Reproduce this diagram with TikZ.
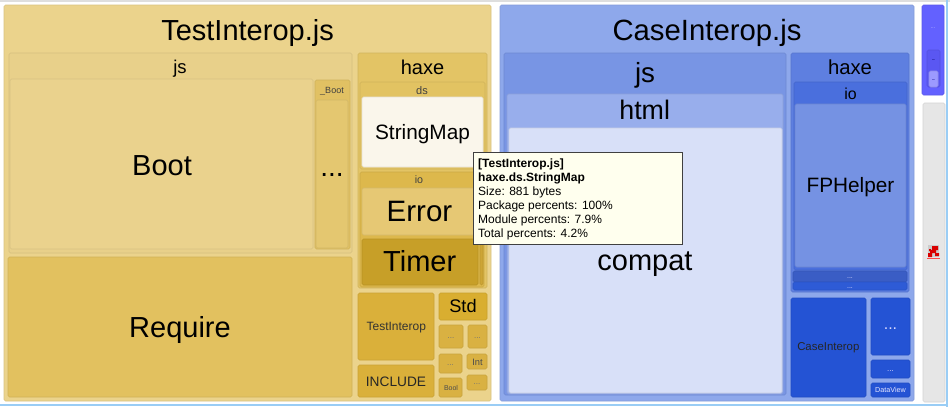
\documentclass[tikz,border=0pt]{standalone}
\usepackage{fontspec}
\setmainfont{Liberation Sans}
\definecolor{cTI}{HTML}{EBD38C}
\definecolor{cTJS}{HTML}{E8D08A}
\definecolor{cBoot}{HTML}{EAD28D}
\definecolor{cBG}{HTML}{E1C163}
\definecolor{cBGin}{HTML}{E4C770}
\definecolor{cReq}{HTML}{E2C15F}
\definecolor{cTHaxe}{HTML}{E3C465}
\definecolor{cDS}{HTML}{E2C362}
\definecolor{cSM}{HTML}{FAF6EB}
\definecolor{cTIO}{HTML}{DDB84C}
\definecolor{cErr}{HTML}{E6C874}
\definecolor{cTim}{HTML}{C79F28}
\definecolor{cStrip}{HTML}{CDA535}
\definecolor{cSmall}{HTML}{DAB03A}
\definecolor{cStd}{HTML}{D9AE30}
\definecolor{cTiny}{HTML}{D9B142}
\definecolor{cCI}{HTML}{8EA8EB}
\definecolor{cCJS}{HTML}{7895E4}
\definecolor{cHtml}{HTML}{98AEEC}
\definecolor{cCompat}{HTML}{D8E0F8}
\definecolor{cCHaxe}{HTML}{5E7FE0}
\definecolor{cCIO}{HTML}{4A6FDD}
\definecolor{cFPH}{HTML}{7592E3}
\definecolor{cBand}{HTML}{3A5DC5}
\definecolor{cBandb}{HTML}{2E5BD6}
\definecolor{cDeep}{HTML}{2453D4}
\definecolor{cPurp}{HTML}{6361FF}
\definecolor{cPurpD}{HTML}{5A57F2}
\definecolor{cPurpL}{HTML}{9C9AFF}
\definecolor{cGray}{HTML}{E6E6E6}
\definecolor{cTip}{HTML}{FFFFEE}
\definecolor{cEdgeBlue}{HTML}{9ACDF5}
\newcommand\fsz[1]{\fontsize{#1}{#1}\selectfont}
\tikzset{
  bx/.style={anchor=north west, inner sep=0pt, outer sep=0pt, rounded corners=1.5pt, line width=0.6pt},
  lb/.style={inner sep=0pt, outer sep=0pt, anchor=base, text=black},
  dim/.style={lb, text=black!55},
  wdim/.style={lb, text=white!85!blue},
  tip/.style={inner sep=0pt, anchor=base west, text=black, font=\fsz{12}},
}
\newcommand\bx[6]{\node[bx, fill=#6, draw=#6!92!black, minimum width={#4pt-#2pt}, minimum height={#5pt-#3pt}] (#1) at (#2,#3) {};}
\begin{document}
\begin{tikzpicture}[x=1pt,y=-1pt]
\useasboundingbox (0,0) rectangle (950,407);
\fill[white] (0,0) rectangle (950,407);
\fill[black!13] (0,0) rectangle (950,2);
\fill[cEdgeBlue] (946,0) rectangle (948,407);
\fill[cEdgeBlue] (0,404) rectangle (948,406);
% ---------- TestInterop.js ----------
\bx{ti}{4}{5}{491}{401}{cTI}
\bx{tjs}{9}{53}{352}{253}{cTJS}
\bx{boot}{10}{79}{313}{249}{cBoot}
\bx{bootg}{315}{80}{350}{249}{cBG}
\bx{bootin}{316}{100}{348}{248}{cBGin}
\bx{req}{8}{257}{352}{397}{cReq}
\bx{thaxe}{358}{53}{487}{288}{cTHaxe}
\bx{ds}{360}{82}{485}{169}{cDS}
\bx{smap}{362}{97}{483}{167}{cSM}
\bx{tio}{360}{172}{484}{287}{cTIO}
\bx{err}{362}{188}{478}{235}{cErr}
\bx{tim}{362}{239}{478}{285}{cTim}
\bx{strip}{480}{239}{483}{285}{cStrip}
\bx{tint}{358}{293}{434}{360}{cSmall}
\bx{incl}{358}{365}{434}{397}{cSmall}
\bx{std}{439}{293}{487}{320}{cStd}
\bx{sa}{439}{325}{463}{348}{cTiny}
\bx{sb}{468}{325}{487}{348}{cTiny}
\bx{sc}{439}{354}{462}{373}{cTiny}
\bx{sint}{467}{354}{487}{369}{cTiny}
\bx{sbool}{439}{378}{462}{397}{cTiny}
\bx{sd}{467}{375}{487}{390}{cTiny}
\node[lb, font=\fsz{29}] (l-ti) at (247.5,40) {TestInterop.js};
\node[lb, font=\fsz{18.5}] (l-tjs) at (180,73) {js};
\node[lb, font=\fsz{29}] (l-boot) at (162,175) {Boot};
\node[lb, font=\fsz{9}, text=black!75] (l-bootg) at (332,93) {\_Boot};
\node[lb, font=\fsz{28}] (l-bootin) at (332,176) {...};
\node[lb, font=\fsz{29}] (l-req) at (180,337.5) {Require};
\node[lb, font=\fsz{20}] (l-thaxe) at (422.5,74) {haxe};
\node[lb, font=\fsz{11}, text=black!75] (l-ds) at (422,94) {ds};
\node[lb, font=\fsz{20.8}] (l-smap) at (422.5,139) {StringMap};
\node[lb, font=\fsz{10.7}, text=black!75] (l-tio) at (419,183) {io};
\node[lb, font=\fsz{29.5}] (l-err) at (419.5,221) {Error};
\node[lb, font=\fsz{29}] (l-tim) at (419.7,271.5) {Timer};
\node[lb, font=\fsz{12}, text=black!80] (l-tint) at (396.3,330.7) {TestInterop};
\node[lb, font=\fsz{13.7}, text=black!85] (l-incl) at (396,386) {INCLUDE};
\node[lb, font=\fsz{18.2}] (l-std) at (463,312.3) {Std};
\node[dim, font=\fsz{8}] (l-sa) at (451,338) {...};
\node[dim, font=\fsz{8}] (l-sb) at (477.5,338) {...};
\node[dim, font=\fsz{8}] (l-sc) at (450.5,365) {...};
\node[lb, font=\fsz{9.3}, text=black!70] (l-sint) at (477.5,365) {Int};
\node[lb, font=\fsz{7}, text=black!70] (l-sbool) at (451,390.7) {Bool};
\node[dim, font=\fsz{8}] (l-sd) at (477,384) {...};
% ---------- CaseInterop.js ----------
\bx{ci}{500}{5}{914}{401}{cCI}
\bx{cjs}{504}{53}{786}{395}{cCJS}
\bx{html}{507}{94}{783}{394}{cHtml}
\bx{compat}{509}{128}{782}{393}{cCompat}
\bx{chaxe}{791}{53}{909}{292}{cCHaxe}
\bx{cio}{794}{82}{907}{270}{cCIO}
\bx{fph}{795}{104}{906}{267}{cFPH}
\bx{banda}{793}{271}{907}{282}{cBand}
\bx{bandb}{793}{282}{907}{290}{cBandb}
\bx{cint}{791}{298}{866}{397}{cDeep}
\bx{cda}{871}{298}{910}{355}{cDeep}
\bx{cdb}{871}{360}{910}{378}{cDeep}
\bx{dview}{871}{383}{910}{397}{cDeep}
\node[lb, font=\fsz{29.3}] (l-ci) at (707,40) {CaseInterop.js};
\node[lb, font=\fsz{27.7}] (l-cjs) at (645,82.5) {js};
\node[lb, font=\fsz{26.8}] (l-html) at (644.7,119.3) {html};
\node[lb, font=\fsz{29}] (l-compat) at (645,270.7) {compat};
\node[lb, font=\fsz{20.3}] (l-chaxe) at (850,74) {haxe};
\node[lb, font=\fsz{15.9}] (l-cio) at (850.5,99) {io};
\node[lb, font=\fsz{20.8}] (l-fph) at (850.5,192.7) {FPHelper};
\node[wdim, font=\fsz{7}] (l-banda) at (850,278) {...};
\node[wdim, font=\fsz{7}] (l-bandb) at (850,288) {...};
\node[lb, font=\fsz{11.4}, text=black!85] (l-cint) at (828.3,350.7) {CaseInterop};
\node[wdim, font=\fsz{16}] (l-cda) at (890.5,329) {...};
\node[wdim, font=\fsz{8}] (l-cdb) at (890.5,371) {...};
\node[lb, font=\fsz{7.2}, text=white!90!blue] (l-dview) at (890.5,392.7) {DataView};
% ---------- right column ----------
\bx{purp}{922}{5}{944}{95}{cPurp}
\bx{purpd}{927}{50}{940}{87}{cPurpD}
\bx{purpl}{929}{71}{938}{87}{cPurpL}
\node[lb, font=\fsz{6}, text=white!70!blue] (l-purp) at (933,28) {...};
\node[lb, font=\fsz{5}, text=black!60!blue] (l-purpd) at (933.5,61) {--};
\node[lb, font=\fsz{5}, text=black!50!blue] (l-purpl) at (933.5,81) {--};
\bx{gray}{923}{103}{945}{402}{cGray}
\node[anchor=north west, inner sep=0pt, minimum width=11pt, minimum height=12pt, fill=black!20] (icon) at (928,245) {};
\fill[red!85!black] (932,246) rectangle (938,250) (930,250) rectangle (936,253) (928,253) rectangle (932,257) (935,253) rectangle (939,256) (929,249) rectangle (931,251);
\fill[red!70] (927,258) rectangle (940,259);
% ---------- tooltip ----------
\node[anchor=north west, inner sep=0pt, outer sep=0pt, minimum width=209pt, minimum height=92pt, fill=cTip, draw=black!75, line width=0.8pt] (tip) at (473,152) {};
\node[tip, font=\fsz{12}\bfseries] (t1) at (478,167) {[TestInterop.js]};
\node[tip, font=\fsz{12}\bfseries] (t2) at (478,181) {haxe.ds.StringMap};
\node[tip] (t3) at (478,195) {Size: 881 bytes};
\node[tip] (t4) at (478,209) {Package percents: 100\%};
\node[tip] (t5) at (478,223) {Module percents: 7.9\%};
\node[tip] (t6) at (478,237) {Total percents: 4.2\%};
\end{tikzpicture}
\end{document}
